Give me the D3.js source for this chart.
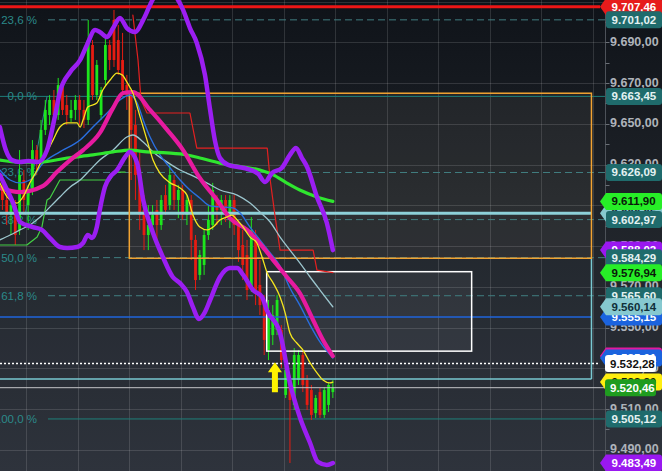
<!DOCTYPE html>
<html><head><meta charset="utf-8">
<script src="https://cdn.jsdelivr.net/npm/d3@7"></script>
<style>
html,body{margin:0;padding:0;background:#161a20;overflow:hidden}
svg{display:block}
</style></head><body>
<svg id="chart" width="662" height="471"></svg>
<script>
// ---------- DATA ----------
const candleOpen = [9620.0,9612.6,9605.2,9610.1,9597.9,9622.4,9610.1,9617.5,9637.1,9632.2,
9647.0,9654.3,9661.7,9654.3,9669.0,9659.2,9652.8,9656.8,9661.7,9656.8,
9651.9,9688.7,9664.1,9654.3,9671.5,9688.7,9701.0,9691.1,9681.3,9669.0,
9664.1,9649.4,9627.3,9607.7,9595.4,9600.3,9607.7,9600.3,9615.0,9610.1,
9622.4,9612.6,9617.5,9605.2,9612.6,9593.0,9575.8,9580.7,9595.4,9600.3,
9612.6,9607.7,9612.6,9605.2,9612.6,9600.3,9590.5,9585.6,9568.4,9593.0,
9570.9,9563.5,9539.0,9546.3,9548.8,9548.8,9516.9,9524.2,9512.0,9524.2,
9536.5,9524.2,9519.3,9508.0,9518.3,9507.1,9512.0,9518.3];
const candleHigh = [9624.9,9617.5,9612.6,9612.6,9637.1,9627.3,9620.0,9642.0,9639.6,9651.9,
9661.7,9664.1,9666.6,9672.5,9671.5,9664.1,9661.7,9664.1,9664.1,9661.7,
9701.0,9691.1,9681.3,9668.1,9692.6,9691.1,9705.9,9698.5,9694.6,9674.0,
9666.6,9656.8,9637.1,9615.0,9610.1,9610.1,9612.6,9615.0,9620.0,9629.8,
9624.9,9620.0,9620.0,9615.0,9615.0,9595.4,9588.0,9597.9,9610.1,9621.0,
9615.0,9615.0,9615.0,9615.0,9615.0,9602.8,9597.9,9593.0,9604.2,9597.9,
9583.1,9566.0,9563.5,9561.0,9566.0,9551.2,9531.6,9526.7,9539.9,9539.0,
9538.0,9526.7,9521.8,9516.9,9520.3,9520.8,9522.8,9524.2];
const candleLow = [9607.7,9600.3,9595.4,9590.5,9595.4,9605.2,9597.9,9615.0,9624.9,9629.8,
9644.5,9649.4,9651.9,9651.9,9654.3,9649.4,9650.9,9651.9,9649.4,9647.9,
9649.4,9661.7,9661.7,9651.9,9669.0,9676.4,9677.9,9674.0,9664.1,9656.8,
9622.4,9612.6,9597.9,9588.0,9588.0,9595.4,9593.0,9597.9,9605.2,9607.7,
9607.7,9603.7,9602.8,9600.3,9583.1,9568.4,9573.3,9575.8,9593.0,9597.9,
9600.3,9600.3,9601.8,9598.8,9595.4,9582.2,9573.3,9563.5,9567.4,9561.0,
9556.1,9536.5,9534.0,9541.4,9546.3,9530.1,9515.4,9483.5,9509.5,9521.8,
9518.3,9509.5,9504.6,9505.6,9505.6,9505.6,9508.5,9515.4];
const candleClose = [9612.6,9605.2,9610.1,9595.4,9624.9,9612.6,9617.5,9637.1,9632.2,9647.0,
9656.8,9661.7,9654.3,9669.0,9656.8,9654.3,9656.8,9661.7,9656.8,9651.9,
9691.1,9664.1,9678.9,9666.6,9688.7,9681.3,9681.3,9676.4,9666.6,9664.1,
9647.0,9624.9,9605.2,9595.4,9600.3,9605.2,9600.3,9612.6,9607.7,9624.9,
9612.6,9617.5,9605.2,9612.6,9593.0,9573.3,9585.6,9595.4,9602.8,9617.5,
9607.7,9612.6,9605.2,9612.6,9600.3,9588.0,9580.7,9568.4,9597.9,9568.4,
9561.0,9543.9,9558.6,9556.1,9563.5,9534.0,9529.1,9514.4,9536.5,9536.5,
9521.8,9512.0,9507.1,9515.4,9507.1,9519.3,9521.8,9520.46];

// indicator series: [bar index, price]
const bbUpper = [[-0.6,9648.4],[0.8,9637.1],[2.2,9632.2],[4.1,9631.2],[6,9631.7],[8.3,9631.2],[10.4,9637.1],[12.3,9654.3],[13.4,9665.6],[15.8,9675.4],[18.1,9681.3],[19.7,9688.7],[21.6,9696.0],[22.7,9695.1],[24.4,9692.6],[25.8,9697.0],[27.4,9701.9],[29.0,9697.0],[30.9,9695.1],[32.8,9701.0],[34.4,9708.3],[35.6,9713.2],[37.9,9718.1],[40.2,9713.2],[42.1,9705.9],[43.7,9697.0],[45.3,9689.7],[47.2,9674.0],[48.4,9656.8],[49.5,9642.0],[50.7,9633.2],[52.6,9629.8],[54.9,9628.8],[57.2,9627.8],[59.6,9625.4],[61.2,9621.4],[62.8,9625.8],[65.1,9628.3],[67.0,9634.7],[68.4,9638.1],[69.8,9633.2],[71.0,9628.8],[73.3,9614.1],[75.6,9601.3],[77.0,9588.0]];
const bbLower = [[-0.6,9624.9],[1.1,9617.5],[2.5,9611.1],[4.1,9601.8],[7.1,9599.3],[9.2,9597.9],[11.1,9593.9],[13.4,9589.5],[15.1,9589.0],[17.4,9589.5],[18.8,9591.5],[19.9,9595.4],[20.9,9593.9],[22.0,9599.3],[22.7,9607.7],[23.9,9619.0],[25.1,9623.9],[26.7,9627.3],[28.6,9633.7],[29.7,9636.2],[31.4,9630.7],[32.8,9612.6],[35.1,9596.4],[37.4,9584.6],[39.7,9574.8],[41.4,9571.8],[43.0,9567.4],[44.4,9560.0],[45.8,9554.2],[47.2,9557.6],[48.4,9563.5],[50.7,9574.8],[53.0,9579.2],[54.7,9579.2],[56.1,9575.8],[58.4,9568.4],[60.5,9565.0],[61.6,9558.6],[64.7,9547.3],[67.0,9522.8],[69.3,9506.1],[71.7,9493.3],[73.5,9484.0],[75.6,9482.5],[77.0,9483.49]];
const maMagenta = [[-0.6,9618.5],[4.1,9616.5],[9.5,9619.5],[12.7,9626.3],[15.8,9632.2],[18.8,9637.1],[22.7,9645.5],[25.8,9657.8],[28.1,9665.1],[30.4,9665.6],[34.4,9656.8],[38.4,9647.0],[42.1,9637.1],[46.0,9623.4],[50.0,9612.6],[53.0,9603.7],[57.0,9597.9],[60.7,9589.5],[63.1,9583.1],[66.3,9574.8],[69.3,9566.9],[72.4,9553.7],[74.7,9543.9],[77.0,9536.0]];
const maYellow = [[-0.6,9621.0],[1.1,9614.1],[3.4,9611.1],[4.8,9614.1],[6.4,9621.0],[8.1,9627.3],[9.5,9633.7],[10.6,9637.1],[11.8,9642.0],[13.4,9648.4],[15.1,9650.4],[17.4,9650.4],[18.1,9648.4],[18.8,9651.9],[19.9,9658.2],[22.0,9660.2],[23.4,9666.6],[25.1,9671.5],[26.7,9674.9],[27.9,9674.0],[29.0,9670.5],[30.4,9665.1],[32.1,9653.3],[33.7,9642.0],[35.1,9632.2],[36.7,9625.8],[39.1,9621.0],[41.4,9618.5],[43.0,9615.0],[44.4,9605.2],[46.0,9599.3],[47.7,9597.9],[49.1,9599.3],[50.7,9602.8],[52.3,9604.2],[53.5,9605.2],[54.7,9602.8],[56.1,9599.3],[57.7,9594.4],[59.3,9591.5],[60.5,9584.6],[61.7,9576.8],[63.1,9571.8],[64.7,9565.0],[65.9,9557.1],[67.0,9547.3],[68.6,9542.4],[70.0,9539.0],[71.7,9532.6],[73.3,9527.7],[74.7,9524.2],[76.3,9522.8],[77.0,9523.2]];
const maBlue = [[-0.6,9627.3],[1.8,9622.4],[4.1,9621.0],[6.4,9622.4],[9.5,9630.7],[13.4,9636.2],[18.1,9642.0],[21.1,9648.4],[24.4,9655.3],[27.4,9661.7],[29.7,9664.1],[31.4,9660.2],[32.8,9651.9],[34.4,9643.5],[36.7,9634.7],[39.1,9628.3],[41.4,9622.4],[43.7,9617.5],[46.0,9613.6],[48.4,9609.7],[50.7,9609.2],[53.7,9608.7],[55.4,9606.2],[57.7,9599.3],[60.0,9593.0],[62.4,9586.6],[64.7,9580.2],[67.0,9569.4],[69.3,9561.0],[71.7,9551.2],[74.0,9542.9],[77.0,9535.0]];
const maLight = [[-0.6,9593.0],[1.8,9595.4],[4.1,9597.9],[6.4,9600.3],[8.8,9604.2],[11.1,9609.2],[13.4,9614.1],[15.8,9619.0],[18.1,9622.4],[20.4,9627.3],[22.7,9632.2],[25.8,9637.1],[29.0,9643.5],[30.4,9644.5],[32.8,9641.1],[35.1,9636.2],[38.4,9631.2],[41.4,9627.3],[44.4,9624.4],[47.7,9620.9],[50.7,9617.5],[54.7,9615.0],[57.7,9611.1],[60.0,9606.7],[62.4,9601.8],[64.7,9594.4],[67.0,9588.0],[69.3,9581.7],[71.7,9574.8],[74.0,9568.4],[77.0,9560.14]];
const maGreen = [[-0.6,9632.2],[4.1,9631.2],[8.8,9631.2],[15.1,9633.2],[21.1,9634.7],[25.8,9636.2],[29.7,9637.1],[33.7,9636.2],[38.4,9635.7],[43.0,9634.7],[46.0,9633.2],[50.7,9630.7],[56.1,9628.8],[60.0,9627.3],[63.1,9624.9],[66.3,9620.9],[69.3,9617.5],[73.3,9614.1],[77.0,9611.9]];
const stopRed = [[30.4,9703.4],[31.6,9681.3],[32.3,9661.7],[33.7,9655.3],[43.7,9655.3],[45.3,9638.1],[61.7,9638.1],[62.4,9622.4],[63.5,9605.2],[64.7,9588.0],[72.4,9588.0],[73.3,9578.2],[77.0,9576.94]];
const stopLime = [[-0.6,9590.5],[5.7,9590.5],[8.1,9594.4],[9.2,9599.3],[10.4,9612.6],[11.1,9613.6],[13.4,9622.4],[25.1,9622.4],[25.8,9624.9],[26.7,9626.3],[28.6,9626.3]];
const fibTrend = [[5.3,9605.2],[10.4,9663.45]];

const fibPrices = [9701.02,9663.45,9626.09,9602.97,9584.29,9565.60,9505.12];
const fibLabels = ["23,6 %","0,0 %","23,6 %","38,2 %","50,0 %","61,8 %","100,0 %"];

// drawn objects: [startBar, endBar, topPrice, bottomPrice]
const orangeBox = [29.57,137.26,9665.0,9584.0];
const whiteBox = [61.58,109.34,9577.4,9538.4];
const cyanBoxBottom = 9524.7;
const cyanLevel = 9606.05;
const blueLevel = 9555.15;
const dottedLevel = 9532.28;
const lastPrice = 9520.46;
const redTopLevel = 9707.46;
const upArrow = [63.5, 9533.0];

const timeTicks = [5.5,17.5,29.5,41.5,53.5,65.5,77.5,89.5,101.5,113.5,125.5,137.5];
const priceTicks = [9490,9510,9530,9550,9570,9590,9610,9630,9650,9670,9690,9710];
const priceMinor = [9480,9500,9520,9540,9560,9580,9600,9620,9640,9660,9680,9700,9720];

// price tags on the axis (drawn in this order)
const tagValues = [9707.46,9701.02,9663.45,9626.09,9606.05,9611.90,9602.97,9588.02,9584.29,9576.94,9565.60,9555.15,9560.14,9536.03,9535.01,9532.28,9523.20,9520.46,9505.12,9483.49];
const tagKinds  = ["red","teal","teal","teal","cyan","lime","teal","purple","teal","lime","teal","blue","cyan","magenta","blue","white","yellow","dgreen","teal","purple"];

// ---------- STYLE ----------
const KIND = {
  red:{fill:"#e61b1b",text:"#ffffff",arrow:true},
  teal:{fill:"#1f6b6c",text:"#e4f2f2",arrow:false},
  cyan:{fill:"#86c9d0",text:"#10303a",arrow:true},
  lime:{fill:"#27ee27",text:"#0a1a0a",arrow:true},
  purple:{fill:"#9a18f0",text:"#ffffff",arrow:true},
  blue:{fill:"#1b63de",text:"#ffffff",arrow:true},
  magenta:{fill:"#e2199f",text:"#ffffff",arrow:true},
  white:{fill:"#ffffff",text:"#111111",arrow:false,narrow:true},
  yellow:{fill:"#ffee10",text:"#111111",arrow:true},
  dgreen:{fill:"#1f9c1f",text:"#ffffff",arrow:false,narrow:true}
};
const GREEN="#1de61d", RED="#e61c12";

// ---------- DRAW ----------
const W=662,H=471,AX=605.5;
const svg=d3.select("#chart");
const defs=svg.append("defs");
const grad=defs.append("linearGradient").attr("id","bg").attr("x1",0).attr("y1",0).attr("x2",0).attr("y2",1);
grad.append("stop").attr("offset","0%").attr("stop-color","#0f1319");
grad.append("stop").attr("offset","45%").attr("stop-color","#1f2329");
grad.append("stop").attr("offset","100%").attr("stop-color","#2e333c");
defs.append("clipPath").attr("id","plot").append("rect").attr("x",0).attr("y",0).attr("width",AX).attr("height",H);
svg.append("rect").attr("width",W).attr("height",H).attr("fill","url(#bg)");

const x=d3.scaleLinear().domain([-0.5,137.5]).range([0.25,592.5]);
const y=d3.scaleLinear().domain([9690,9510]).range([42.3,409]);
const fmt=d3.formatLocale({decimal:",",thousands:".",grouping:[3],currency:["",""]}).format(",.2f");

const plot=svg.append("g").attr("clip-path","url(#plot)");

// box fills
plot.append("rect").attr("x",x(orangeBox[0])).attr("y",y(orangeBox[2])).attr("width",x(orangeBox[1])-x(orangeBox[0])).attr("height",y(orangeBox[3])-y(orangeBox[2])).attr("fill","rgba(255,235,205,0.055)");
plot.append("rect").attr("x",0).attr("y",y(orangeBox[3])).attr("width",x(orangeBox[1])).attr("height",y(cyanBoxBottom)-y(orangeBox[3])).attr("fill","rgba(130,190,230,0.025)");
plot.append("rect").attr("x",x(whiteBox[0])).attr("y",y(whiteBox[2])).attr("width",x(whiteBox[1])-x(whiteBox[0])).attr("height",y(whiteBox[3])-y(whiteBox[2])).attr("fill","rgba(255,255,255,0.05)");

// grid
plot.append("g").selectAll("line").data(timeTicks).join("line")
  .attr("x1",d=>Math.round(x(d))+0.5).attr("x2",d=>Math.round(x(d))+0.5).attr("y1",0).attr("y2",H)
  .attr("stroke","rgba(255,255,255,0.13)").attr("stroke-width",1);
plot.append("g").selectAll("line").data(priceTicks).join("line")
  .attr("x1",0).attr("x2",AX).attr("y1",d=>Math.round(y(d))+0.5).attr("y2",d=>Math.round(y(d))+0.5)
  .attr("stroke","rgba(255,255,255,0.13)").attr("stroke-width",1);

// fibonacci levels
const fibG=plot.append("g");
fibPrices.forEach((p,i)=>{
  const solid=(i===1||i===6);
  fibG.append("line").attr("x1",i===1?0:48).attr("x2",AX).attr("y1",y(p)).attr("y2",y(p))
    .attr("stroke",solid?"#1f7f7a":"#417e80").attr("stroke-width",1)
    .attr("stroke-dasharray",solid?null:"7,4");
  fibG.append("text").attr("x",37).attr("y",y(p)+4).attr("text-anchor","end")
    .attr("font-family","Arial, 'Liberation Sans', sans-serif").attr("font-size",11.5)
    .attr("fill","#2b8a8a").text(fibLabels[i]);
});
fibG.append("path").datum(fibTrend).attr("fill","none").attr("stroke","#2b8a8a").attr("stroke-width",1)
  .attr("d",d3.line().x(d=>x(d[0])).y(d=>y(d[1])));

// candles
const candles=candleOpen.map((o,i)=>({i,o,h:candleHigh[i],l:candleLow[i],c:candleClose[i]}));
const cg=plot.append("g");
cg.selectAll("line").data(candles).join("line")
  .attr("x1",d=>x(d.i)).attr("x2",d=>x(d.i)).attr("y1",d=>y(d.h)).attr("y2",d=>y(d.l))
  .attr("stroke",d=>d.c>=d.o?GREEN:RED).attr("stroke-width",1);
cg.selectAll("rect").data(candles).join("rect")
  .attr("x",d=>x(d.i)-1.4).attr("width",2.8)
  .attr("y",d=>y(Math.max(d.o,d.c))).attr("height",d=>Math.max(1,Math.abs(y(d.o)-y(d.c))))
  .attr("fill",d=>d.c>=d.o?GREEN:RED);

// horizontal objects
const hl=(p,x1,x2,col,w,dash)=>plot.append("line").attr("x1",x1).attr("x2",x2).attr("y1",y(p)).attr("y2",y(p))
  .attr("stroke",col).attr("stroke-width",w).attr("stroke-dasharray",dash||null);
hl(redTopLevel,0,600,"#ee1616",3);
hl(cyanLevel,0,x(orangeBox[1]),"#8dd0d8",3);
hl(blueLevel,0,x(orangeBox[1]),"#1f64dc",1.5);
hl(dottedLevel,0,600,"#ffffff",1.5,"2,2");
hl(cyanBoxBottom,0,x(orangeBox[1]),"#79c9d2",1.5);
hl(lastPrice,0,AX,"#c4c6c8",1);
plot.append("line").attr("x1",x(orangeBox[1])).attr("x2",x(orangeBox[1])).attr("y1",y(orangeBox[3])).attr("y2",y(cyanBoxBottom))
  .attr("stroke","#79c9d2").attr("stroke-width",1.5);
plot.append("rect").attr("x",x(orangeBox[0])).attr("y",y(orangeBox[2])).attr("width",x(orangeBox[1])-x(orangeBox[0])).attr("height",y(orangeBox[3])-y(orangeBox[2]))
  .attr("fill","none").attr("stroke","#f2a332").attr("stroke-width",1.5);
plot.append("rect").attr("x",x(whiteBox[0])).attr("y",y(whiteBox[2])).attr("width",x(whiteBox[1])-x(whiteBox[0])).attr("height",y(whiteBox[3])-y(whiteBox[2]))
  .attr("fill","none").attr("stroke","#ffffff").attr("stroke-width",1.5);

// indicators
const smooth=d3.line().x(d=>x(d[0])).y(d=>y(d[1])).curve(d3.curveMonotoneX);
const straight=d3.line().x(d=>x(d[0])).y(d=>y(d[1]));
const ind=(data,gen,col,w)=>plot.append("path").datum(data).attr("fill","none").attr("stroke",col)
  .attr("stroke-width",w).attr("stroke-linejoin","round").attr("stroke-linecap","round").attr("d",gen);
ind(stopLime,straight,"#44d044",1.2);
ind(stopRed,straight,"#e52020",1.2);
ind(maLight,smooth,"#9cc6ce",1.3);
ind(maBlue,smooth,"#2a6fe0",1.4);
ind(maGreen,smooth,"#2fe62f",3.2);
ind(maMagenta,smooth,"#e61aa0",4.2);
ind(maYellow,smooth,"#f5e61e",1.3);
ind(bbUpper,smooth,"#9b1ef2",4.5);
ind(bbLower,smooth,"#9b1ef2",4.5);

// yellow up arrow
{
  const ax=x(upArrow[0]), ay=y(upArrow[1]);
  plot.append("path").attr("fill","#fff200")
    .attr("d",`M${ax},${ay} L${ax+7},${ay+10} L${ax+3},${ay+10} L${ax+3},${ay+30} L${ax-3},${ay+30} L${ax-3},${ay+10} L${ax-7},${ay+10} Z`);
}

// axis
const axG=svg.append("g");
axG.append("line").attr("x1",AX).attr("x2",AX).attr("y1",0).attr("y2",H).attr("stroke","#4d5259").attr("stroke-width",1);
axG.selectAll("line.t").data(priceMinor.concat(priceTicks)).join("line").attr("class","t")
  .attr("x1",AX).attr("x2",AX+4).attr("y1",d=>Math.round(y(d))+0.5).attr("y2",d=>Math.round(y(d))+0.5)
  .attr("stroke","#6a6f76").attr("stroke-width",1);
axG.selectAll("text").data(priceTicks).join("text")
  .attr("x",610).attr("y",d=>y(d)+3.5)
  .attr("font-family","Arial, 'Liberation Sans', sans-serif").attr("font-weight","bold").attr("font-size",12.5)
  .attr("fill","#aeb3ba").text(d=>fmt(d));

// tags
const tg=svg.append("g");
tagValues.forEach((v,i)=>{
  const k=KIND[tagKinds[i]]; const yc=y(v), h=8.5;
  const right=k.narrow?656:662, left=k.narrow?605:606;
  if(k.arrow){
    tg.append("path").attr("fill",k.fill)
      .attr("d",`M600,${yc} L${left},${yc-h} L${right-3},${yc-h} Q${right},${yc-h} ${right},${yc-h+3} L${right},${yc+h-3} Q${right},${yc+h} ${right-3},${yc+h} L${left},${yc+h} Z`);
  } else {
    tg.append("rect").attr("x",left).attr("y",yc-h).attr("width",right-left).attr("height",2*h).attr("rx",3).attr("fill",k.fill);
  }
  tg.append("text").attr("x",k.narrow?610:611.5).attr("y",yc+4)
    .attr("font-family","Arial, 'Liberation Sans', sans-serif").attr("font-weight","bold").attr("font-size",11.5)
    .attr("fill",k.text).text(fmt(v));
});
</script>
</body></html>
